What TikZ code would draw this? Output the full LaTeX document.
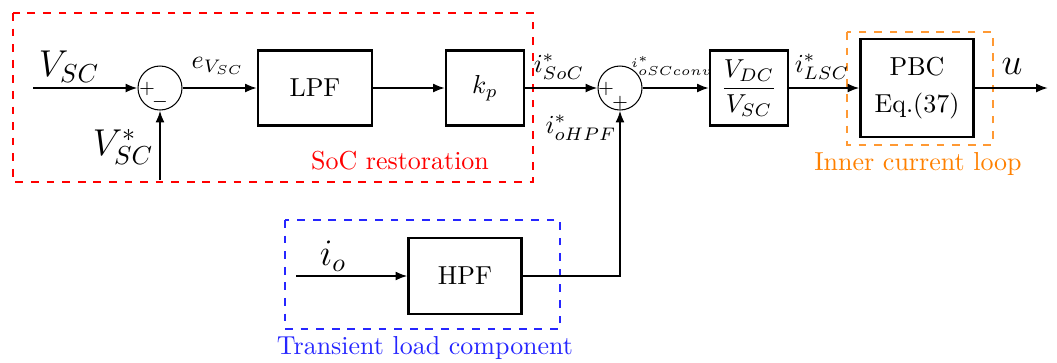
\documentclass[tikz,border=0pt]{standalone}
\usetikzlibrary{arrows.meta}
\begin{document}
\begin{tikzpicture}[x=0.385pt,y=-0.385pt,
  blk/.style={draw,thick,inner sep=0pt,minimum width=#1},
  sumc/.style={draw,circle,inner sep=0pt,minimum size=44*0.385pt},
  sig/.style={thick,-{Latex[length=4.6pt,width=3.5pt]}},
  grp/.style={dashed,thin},
  sgn/.style={font=\scriptsize,inner sep=0pt},
  lbl/.style={inner sep=0pt}]
\useasboundingbox (0,0) rectangle (1057,362);
% groups
\draw[grp,red] (13,13) rectangle (533,182);
\draw[grp,orange!80] (847,32) rectangle (993,145);
\draw[grp,blue!85] (285,220) rectangle (560,329);
\node[lbl,red] (tsoc) at (400,161) {SoC restoration};
\node[lbl,orange] (tinner) at (918,164) {Inner current loop};
\node[lbl,blue!85] (ttrans) at (425,348) {Transient load component};
% blocks
\node[sumc] (s1) at (160,88) {};
\node[blk=114*0.385pt,minimum height=75*0.385pt] (lpf) at (315,88) {LPF};
\node[blk=78*0.385pt,minimum height=75*0.385pt] (kp) at (485,88) {$k_p$};
\node[sumc] (s2) at (620,88) {};
\node[blk=78*0.385pt,minimum height=75*0.385pt] (conv) at (749,88) {$\displaystyle\frac{V_{DC}}{V_{SC}}$};
\node[blk=113*0.385pt,minimum height=98*0.385pt,align=center] (pbc) at (917,88) {PBC\\[2pt]Eq.(37)};
\node[blk=113*0.385pt,minimum height=76*0.385pt] (hpf) at (465,276) {HPF};
% signs
\node[sgn] (p1) at (147,89) {$+$};
\node[sgn] (m1) at (160,102) {$-$};
\node[sgn] (p2) at (606,89) {$+$};
\node[sgn] (p3) at (620,103) {$+$};
% free ends
\coordinate (inV) at (33,88);
\coordinate (inVr) at (160,180);
\coordinate (inIo) at (296,276);
\coordinate (outU) at (1048,88);
% connectors
\draw[sig] (inV) -- (s1);
\draw[sig] (inVr) -- (s1);
\draw[sig] (s1) -- (lpf);
\draw[sig] (lpf) -- (kp);
\draw[sig] (kp) -- (s2);
\draw[sig] (s2) -- (conv);
\draw[sig] (conv) -- (pbc);
\draw[sig] (pbc) -- (outU);
\draw[sig] (inIo) -- (hpf);
\draw[sig] (hpf) -| (s2);
% labels
\node[lbl,font=\Large] (lVsc) at (69,67) {$V_{SC}$};
\node[lbl,font=\Large] (lVref) at (123,147) {$V_{SC}^{*}$};
\node[lbl] (le) at (218,66) {$e_{V_{SC}}$};
\node[lbl] (lsoc) at (559,67) {$i_{SoC}^{*}$};
\node[lbl,font=\tiny] (lconv) at (672,66) {$i_{oSCconv}^{*}$};
\node[lbl] (llsc) at (822,67) {$i_{LSC}^{*}$};
\node[lbl,font=\Large] (lu) at (1012,66) {$u$};
\node[lbl] (lhpf) at (581,128) {$i_{oHPF}^{*}$};
\node[lbl,font=\Large] (lio) at (333,256) {$i_o$};
\end{tikzpicture}
\end{document}
